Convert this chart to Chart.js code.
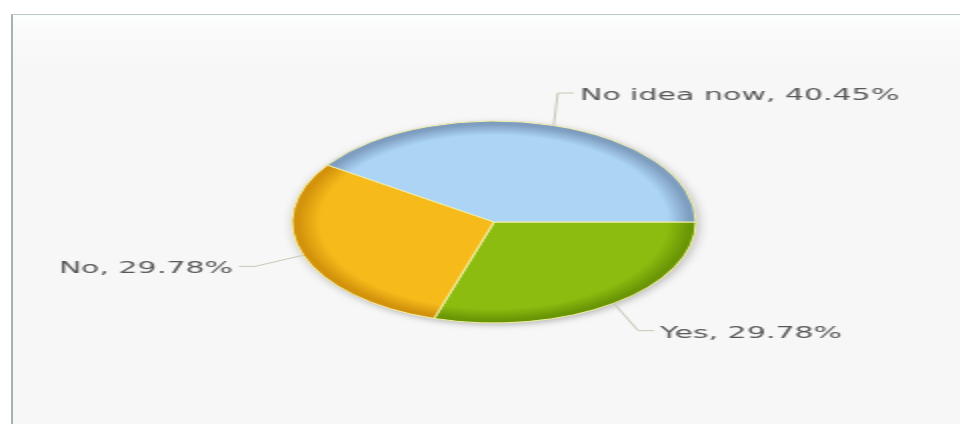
<!DOCTYPE html>
<html>
<head>
  <meta charset="UTF-8">
  <title>Survey Pie</title>
  <script src="https://cdn.jsdelivr.net/npm/chart.js"></script>
  <style>
    html, body {
      margin: 0;
      padding: 0;
      background: #fff;
      width: 960px;
      height: 424px;
      overflow: hidden;
    }
    #frame {
      position: absolute;
      left: 11px;
      top: 14px;
      width: 960px;
      height: 420px;
      border-top: 1px solid #b9caca;
      border-left: 2px solid #a9b2b2;
      background: linear-gradient(#fdfefe 0px, #fafafa 16px, #f7f7f7 60px, #f7f7f7 100%);
    }
    /* chart is laid out at half width and stretched back out */
    #wrap {
      position: absolute;
      left: 0;
      top: 0;
      width: 480px;
      height: 424px;
      transform: scaleX(2);
      transform-origin: 0 0;
    }
  </style>
</head>
<body>
  <div id="frame"></div>
  <div id="wrap"><canvas id="pieChart"></canvas></div>

  <script>
    // Survey answers (percent)
    const answers = ["Yes", "No", "No idea now"];
    const shares = [29.78, 29.78, 40.45];
    const baseColors = ["#8cbc0f", "#f6bb1b", "#acd5f5"];
    const rimColors = ["#6a9606", "#d3920c", "#7e9dbf"];

    const pieRadius = 101;
    const labelDistance = 34;

    function pieCenter(chart) {
      const a = chart.chartArea;
      return { x: (a.left + a.right) / 2, y: (a.top + a.bottom) / 2 };
    }

    // Bevelled fill: flat in the middle, darker toward the rim
    function sliceFill(context) {
      const chart = context.chart;
      const i = context.dataIndex;
      if (!chart.chartArea) return baseColors[i];
      const c = pieCenter(chart);
      if (!isFinite(c.x) || !isFinite(c.y)) return baseColors[i];
      const g = chart.ctx.createRadialGradient(c.x, c.y, 0, c.x, c.y, pieRadius);
      g.addColorStop(0, baseColors[i]);
      g.addColorStop(0.86, baseColors[i]);
      g.addColorStop(0.97, rimColors[i]);
      g.addColorStop(1, rimColors[i]);
      return g;
    }

    // Soft shadow under the whole pie
    const pieShadow = {
      id: "pieShadow",
      beforeDatasetsDraw(chart) {
        const c = pieCenter(chart);
        const ctx = chart.ctx;
        ctx.save();
        ctx.shadowColor = "rgba(0,0,0,0.35)";
        ctx.shadowBlur = 7;
        ctx.shadowOffsetX = 1;
        ctx.shadowOffsetY = 2;
        ctx.fillStyle = "#ddd";
        ctx.beginPath();
        ctx.arc(c.x, c.y, pieRadius - 1, 0, Math.PI * 2);
        ctx.fill();
        ctx.restore();
      }
    };

    // Labels sit on a ring around the pie, joined by an elbow connector
    const sliceLabels = {
      id: "sliceLabels",
      afterDatasetsDraw(chart) {
        const ctx = chart.ctx;
        const meta = chart.getDatasetMeta(0);
        ctx.save();
        ctx.font = "15px 'DejaVu Sans'";
        ctx.textBaseline = "middle";
        meta.data.forEach((arc, i) => {
          const p = arc.getProps(["x", "y", "startAngle", "endAngle", "outerRadius"], true);
          const mid = (p.startAngle + p.endAngle) / 2;
          const cos = Math.cos(mid), sin = Math.sin(mid);
          const side = cos >= 0 ? 1 : -1;
          const ring = p.outerRadius + labelDistance;
          const ex = p.x + cos * p.outerRadius;
          const ey = p.y + sin * p.outerRadius;
          const ly = p.y + sin * ring;
          const dy = ly - p.y;
          const lx = p.x + side * Math.sqrt(Math.max(ring * ring - dy * dy, 0));

          ctx.strokeStyle = "#c9c6b4";
          ctx.lineWidth = 1;
          ctx.beginPath();
          ctx.moveTo(ex, ey);
          ctx.lineTo(lx - side * 8, ly);
          ctx.lineTo(lx, ly);
          ctx.stroke();

          ctx.fillStyle = "#585858";
          ctx.textAlign = side > 0 ? "left" : "right";
          ctx.fillText(answers[i] + ", " + shares[i].toFixed(2) + "%", lx + side * 3, ly + 3);
        });
        ctx.restore();
      }
    };

    new Chart(document.getElementById("pieChart"), {
      type: "pie",
      data: {
        labels: answers,
        datasets: [{
          data: shares,
          backgroundColor: sliceFill,
          borderColor: "#f4f0a8",
          borderWidth: 1,
          hoverOffset: 0,
          radius: pieRadius
        }]
      },
      options: {
        responsive: true,
        maintainAspectRatio: false,
        animation: false,
        rotation: 90,
        layout: { padding: { left: 14, right: 0, top: 20, bottom: 0 } },
        plugins: {
          legend: { display: false },
          tooltip: { enabled: false }
        }
      },
      plugins: [pieShadow, sliceLabels]
    });
  </script>
</body>
</html>
